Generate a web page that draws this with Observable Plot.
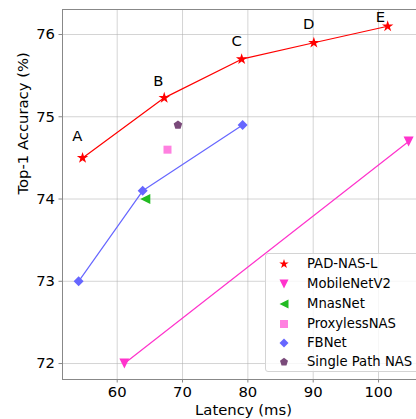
<!DOCTYPE html>
<html>
<head>
<meta charset="utf-8">
<script src="https://cdn.jsdelivr.net/npm/d3@7"></script>
<script src="https://cdn.jsdelivr.net/npm/@observablehq/plot@0.6"></script>
<style>
  html, body { margin: 0; padding: 0; background: #fff; }
  #wrap { position: relative; width: 416px; height: 419px; overflow: hidden; font-family: "DejaVu Sans", sans-serif; }
  #legend { position: absolute; left: 265px; top: 253px; width: 170px; height: 119px; box-sizing: border-box;
            border: 1px solid #d4d4d4; border-radius: 3px; background: rgba(255,255,255,0.8); }
  .row { position: absolute; left: 0; height: 20px; }
  .row svg { position: absolute; left: 9px; top: 1px; }
  .row span { position: absolute; left: 41px; white-space: nowrap; font-size: 13.2px; color: #000; line-height: 20px; top: 0; }
</style>
</head>
<body>
<div id="wrap"></div>
<script>
// ---- data ----
const padX = [54.7, 67.2, 79.05, 90.1, 101.4];
const padY = [74.5, 75.23, 75.7, 75.9, 76.1];
const padLabels = ["A", "B", "C", "D", "E"];
const padLabelX = [53.9, 66.3, 78.3, 89.3, 100.3];
const padLabelY = [74.76, 75.43, 75.92, 76.12, 76.21];

const mobileX = [61.1, 104.6];
const mobileY = [72.0, 74.7];

const mnasX = [64.3];
const mnasY = [74.0];

const proxyX = [67.7];
const proxyY = [74.6];

const fbX = [54.1, 63.9, 79.2];
const fbY = [73.0, 74.1, 74.9];

const spX = [69.3];
const spY = [74.9];

const xTicks = [60, 70, 80, 90, 100];
const yTicks = [72, 73, 74, 75, 76];
const seriesNames = ["PAD-NAS-L", "MobileNetV2", "MnasNet", "ProxylessNAS", "FBNet", "Single Path NAS"];
const seriesColors = ["#ff0000", "#ff33cc", "#22bb22", "#ff80e0", "#6666ff", "#7a4a7a"];

// ---- custom symbols (radius = sqrt(size/pi)) ----
function polySymbol(fn) {
  return { draw(ctx, size) {
    const R = Math.sqrt(size / Math.PI);
    const pts = fn(R);
    ctx.moveTo(pts[0][0], pts[0][1]);
    for (let i = 1; i < pts.length; i++) ctx.lineTo(pts[i][0], pts[i][1]);
    ctx.closePath();
  }};
}
const starSym = polySymbol(R => d3.range(10).map(i => {
  const a = -Math.PI / 2 + i * Math.PI / 5, r = i % 2 ? R * 0.382 : R;
  return [r * Math.cos(a), r * Math.sin(a)];
}));
const triDownSym = polySymbol(R => [[0, R], [-R, -R], [R, -R]]);
const triLeftSym = polySymbol(R => [[-R, 0], [R, -R], [R, R]]);
const squareSym = polySymbol(R => [[-R, -R], [R, -R], [R, R], [-R, R]]);
const diamondSym = polySymbol(R => [[0, -R], [R, 0], [0, R], [-R, 0]]);
const pentaSym = polySymbol(R => d3.range(5).map(i => {
  const a = -Math.PI / 2 + i * 2 * Math.PI / 5;
  return [R * Math.cos(a), R * Math.sin(a)];
}));
const seriesSymbols = [starSym, triDownSym, triLeftSym, squareSym, diamondSym, pentaSym];
const seriesR = [6, 5, 5, 4, 5, 4.5];
const legendR = [5, 4.5, 4.5, 4, 4.5, 4.2];

const toPts = (xs, ys) => xs.map((x, i) => ({x, y: ys[i]}));
const pad = toPts(padX, padY).map((d, i) => ({...d, label: padLabels[i], lx: padLabelX[i], ly: padLabelY[i]}));
const series = [pad, toPts(mobileX, mobileY), toPts(mnasX, mnasY), toPts(proxyX, proxyY), toPts(fbX, fbY), toPts(spX, spY)];

const fmt = d => String(d);
const marks = [
  Plot.gridX(xTicks, {stroke: "#b0b0b0", strokeOpacity: 0.55, strokeWidth: 1}),
  Plot.gridY(yTicks, {stroke: "#b0b0b0", strokeOpacity: 0.55, strokeWidth: 1}),
  Plot.axisX(xTicks, {tickSize: 3.5, tickPadding: 3, fontSize: 14.8, stroke: "#888", fill: "#000", label: null, tickFormat: fmt}),
  Plot.axisY(yTicks, {tickSize: 3.5, tickPadding: 4, fontSize: 14.8, stroke: "#888", fill: "#000", label: null, tickFormat: fmt}),
];
series.forEach((data, i) => {
  if (data.length > 1) marks.push(Plot.line(data, {x: "x", y: "y", stroke: seriesColors[i], strokeWidth: 1.2}));
  marks.push(Plot.dot(data, {x: "x", y: "y", symbol: seriesSymbols[i], r: seriesR[i], fill: seriesColors[i], stroke: null}));
});
marks.push(Plot.text(pad, {x: "lx", y: "ly", text: "label", fontSize: 14.8, fill: "#000", textAnchor: "middle", lineAnchor: "middle"}));
marks.push(Plot.frame({anchor: "left", stroke: "#888"}));
marks.push(Plot.frame({anchor: "top", stroke: "#888"}));
marks.push(Plot.frame({anchor: "bottom", stroke: "#888"}));
marks.push(Plot.text(["Latency (ms)"], {frameAnchor: "bottom", dy: 31, dx: 4, fontSize: 14.8, fill: "#000", lineAnchor: "middle"}));
marks.push(Plot.text(["Top-1 Accuracy (%)"], {frameAnchor: "left", dx: -39, rotate: -90, fontSize: 14.8, fill: "#000", lineAnchor: "middle"}));

const chart = Plot.plot({
  width: 416, height: 419,
  marginLeft: 62, marginRight: 0, marginTop: 9, marginBottom: 40,
  style: {fontFamily: "DejaVu Sans", fontSize: "14.8px", background: "#fff", overflow: "visible"},
  x: {domain: [51.63, 105.81]},
  y: {domain: [71.806, 76.304]},
  marks
});
const wrap = document.getElementById("wrap");
wrap.appendChild(chart);

// ---- legend ----
const legend = document.createElement("div");
legend.id = "legend";
const rowY = [0, 20, 40, 59.5, 78.5, 98];
seriesNames.forEach((name, i) => {
  const row = document.createElement("div");
  row.className = "row";
  row.style.top = rowY[i] + "px";
  const p = d3.path();
  seriesSymbols[i].draw(p, Math.PI * legendR[i] * legendR[i]);
  row.innerHTML = `<svg width="18" height="18" viewBox="-9 -9 18 18"><path d="${p.toString()}" fill="${seriesColors[i]}"/></svg><span>${name}</span>`;
  legend.appendChild(row);
});
wrap.appendChild(legend);
</script>
</body>
</html>
